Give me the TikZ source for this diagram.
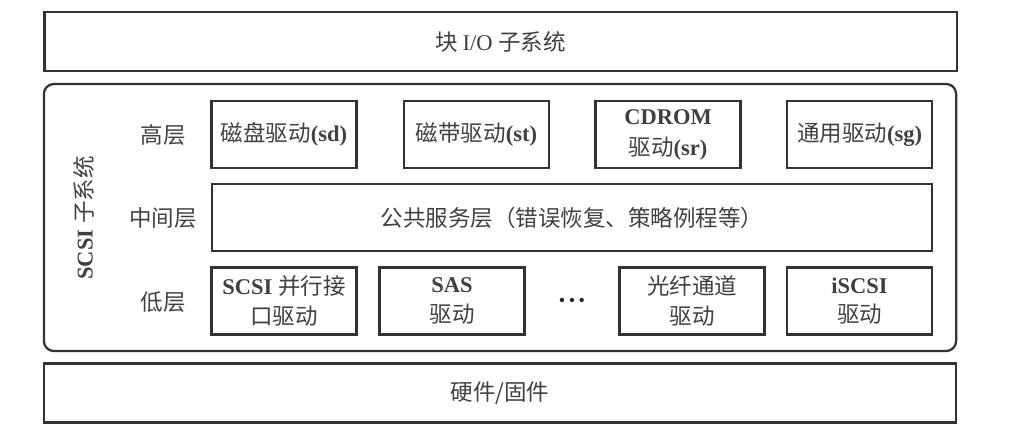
\documentclass[tikz,border=0pt]{standalone}
\usepackage{fontspec}
\setmainfont{Liberation Serif}
\newfontfamily\cjk{Noto Sans CJK SC}
\usetikzlibrary{positioning}

\begin{document}
\begin{tikzpicture}
[x=0.025cm, y=-0.025cm,
% STYLES
every node/.style={font=\fontsize{16}{22}\selectfont, text=black!75},
% The layer style is used to draw the wide boxes
layer/.style={rectangle, draw=black!80, line width=1.6pt, minimum width=22.8cm, minimum height=1.475cm, inner sep=0pt},
% The driver style is used to draw the drivers' name
driver/.style={rectangle, draw=black!80, line width=1.6pt, minimum width=3.625cm, minimum height=1.675cm, align=center, inner sep=2pt},
% The level style is used to name the levels inside SCSI
level/.style={font=\cjk\fontsize{16}{22}\selectfont}]

\useasboundingbox (0,0) rectangle (1024,424);

% Draw layers
\node [layer] (block) at (500.5,41.5) {\cjk 块 \rmfamily I/O \cjk 子系统};
\node [layer, rounded corners=0.25cm, minimum height=6.675cm] (scsi) at (500,217.5) {};
\node [layer] (hardware) at (500,393) {\cjk 硬件/固件};
\node [rotate=90] (scsi-name) at (84,218) {\textbf{SCSI} {\cjk 子系统}};

% LEVELS
\node [level] (upper) at (163,135) {高层};
\node [level] (mid) at (163,218) {中间层};
\node [level] (lower) at (163,302) {低层};

% UPPER DRIVERS
\node [driver] (sd) at (284,134.5) {{\cjk 磁盘驱动}\textbf{(sd)}};
\node [driver] (st) at (476.5,134.5) {{\cjk 磁带驱动}\textbf{(st)}};
\node [driver] (sr) at (668,134.5) {\textbf{CDROM}\\{\cjk 驱动}\textbf{(sr)}};
\node [driver] (sg) at (859.5,134.5) {{\cjk 通用驱动}\textbf{(sg)}};

% MIDDLE LAYER
\node [driver, minimum width=18cm] (common) at (572,217.5) {\cjk 公共服务层（错误恢复、策略例程等）};

% LOWER DRIVERS
\node [driver, font=\fontsize{16}{21}\selectfont] (spi) at (284,301) {\textbf{SCSI} {\cjk 并行接}\\{\cjk 口驱动}};
\node [driver, font=\fontsize{16}{21}\selectfont] (sas) at (452,301) {\textbf{SAS}\\{\cjk 驱动}};
\node [font=\fontsize{13}{13}\selectfont, text=black!85] (dots) at (572,302) {\textbullet\hspace{2.5pt}\textbullet\hspace{2.5pt}\textbullet};
\node [driver, font=\fontsize{16}{21}\selectfont] (fc) at (692,301) {{\cjk 光纤通道}\\{\cjk 驱动}};
\node [driver, font=\fontsize{16}{21}\selectfont] (iscsi) at (859.5,301) {\textbf{iSCSI}\\{\cjk 驱动}};

\end{tikzpicture}
\end{document}
